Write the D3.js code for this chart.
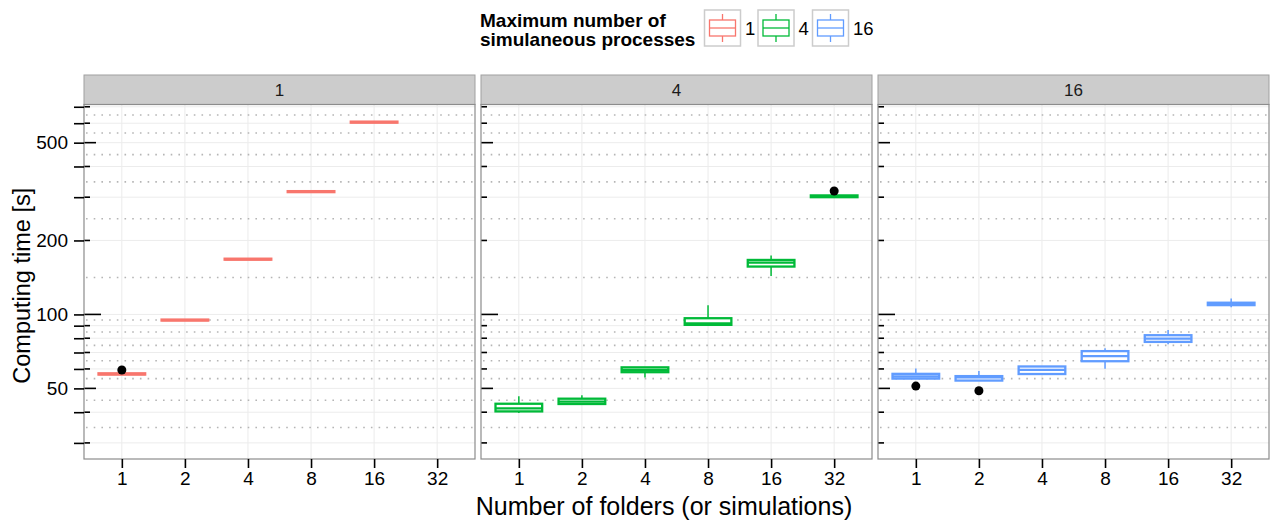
<!DOCTYPE html>
<html>
<head>
<meta charset="utf-8">
<script src="https://cdn.jsdelivr.net/npm/d3@7"></script>
<style>
  body { margin: 0; background: #fff; }
  svg { font-family: "Liberation Sans", Arial, sans-serif; }
</style>
</head>
<body>
<svg id="chart" width="1273" height="520"></svg>
<script>
// categories
const folders = ['1', '2', '4', '8', '16', '32']
const procs = ['1', '4', '16']
const procColors = ['#F8766D', '#00BA38', '#619CFF']

// box stats per panel, one entry per folder: [low whisker, q1, median, q3, high whisker]
const boxes1 = [
    [56.9, 56.9, 57.2, 57.6, 57.6],
    [94.4, 94.4, 94.8, 95.3, 95.3],
    [167.0, 167.0, 167.7, 168.6, 168.6],
    [314.5, 314.5, 316, 317.5, 317.5],
    [603, 603, 606, 609, 609],
    null
]
const boxes4 = [
    [39.7, 40.3, 41.5, 43.3, 46.5],
    [43.1, 43.2, 44.2, 45.4, 46.9],
    [55.4, 58.2, 59.5, 60.9, 61.0],
    [90.7, 90.7, 91.9, 96.5, 109],
    [143.4, 156.6, 162.4, 166.6, 173.6],
    [300, 300, 302.5, 305, 305]
]
const boxes16 = [
    [54.8, 54.8, 55.9, 57.3, 60.3],
    [53.8, 53.8, 55.4, 56.1, 58.8],
    [57.2, 57.2, 59.5, 61.4, 61.4],
    [60.1, 64.5, 67.6, 70.9, 72.8],
    [75.7, 77.3, 79.7, 82.3, 86.4],
    [107, 109.1, 110.4, 111.6, 116.1]
]
// outliers per panel: [folder, value]
const outliers1 = [['1', 59.4]]
const outliers4 = [['32', 318]]
const outliers16 = [['1', 51.1], ['2', 48.9]]

// y axis ticks
const yTicks = [30, 40, 50, 60, 70, 80, 90, 100, 200, 300, 400, 500, 600, 700]
const yLabels = [50, 100, 200, 500]

const panelData = [
    { name: procs[0], boxes: boxes1, outliers: outliers1, color: procColors[0] },
    { name: procs[1], boxes: boxes4, outliers: outliers4, color: procColors[1] },
    { name: procs[2], boxes: boxes16, outliers: outliers16, color: procColors[2] }
]

const svg = d3.select('#chart')

const panelW = 391
const panelGap = 6
const panelLeft = 84
const panelTop = 104.5
const panelBottom = 459
const stripTop = 75

const y = d3.scaleLog().domain([25.8, 715]).range([panelBottom, panelTop])
const x = d3.scalePoint().domain(folders).range([0, panelW]).padding(0.6)
const boxW = x.step() * 0.74

// geometric midpoints between ticks -> dotted minor grid
const minorGrid = d3.pairs(yTicks).map(([a, b]) => Math.sqrt(a * b))

function tickLen(v) {
    const m = v / Math.pow(10, Math.floor(Math.log10(v) + 1e-9))
    if (Math.abs(m - 1) < 1e-6) return 17
    if (Math.abs(m - 5) < 1e-6) return 12
    return 6
}

panelData.forEach((p, i) => {
    const left = panelLeft + i * (panelW + panelGap)
    const g = svg.append('g').attr('transform', `translate(${left},0)`)

    // strip
    g.append('rect')
        .attr('x', 0).attr('y', stripTop)
        .attr('width', panelW).attr('height', panelTop - stripTop)
        .attr('fill', '#cccccc').attr('stroke', '#a0a0a0').attr('stroke-width', 1)
    g.append('text')
        .attr('x', panelW / 2).attr('y', (stripTop + panelTop) / 2 + 6)
        .attr('text-anchor', 'middle').attr('font-size', 17).attr('fill', '#1a1a1a')
        .text(p.name)

    // panel background
    g.append('rect')
        .attr('x', 0).attr('y', panelTop)
        .attr('width', panelW).attr('height', panelBottom - panelTop)
        .attr('fill', '#fff')

    // grid
    g.append('g').selectAll('line')
        .data(folders)
        .enter()
        .append('line')
        .attr('x1', d => x(d)).attr('x2', d => x(d))
        .attr('y1', panelTop).attr('y2', panelBottom)
        .attr('stroke', '#ebebeb').attr('stroke-width', 1)
    g.append('g').selectAll('line')
        .data(yTicks)
        .enter()
        .append('line')
        .attr('x1', 0).attr('x2', panelW)
        .attr('y1', d => y(d)).attr('y2', d => y(d))
        .attr('stroke', '#ececec').attr('stroke-width', 1)
    g.append('g').selectAll('line')
        .data(minorGrid)
        .enter()
        .append('line')
        .attr('x1', 2).attr('x2', panelW)
        .attr('y1', d => y(d)).attr('y2', d => y(d))
        .attr('stroke', '#b5b5b5').attr('stroke-width', 1.6)
        .attr('stroke-dasharray', '1.6 6.1')

    // log ticks inside panel
    g.append('g').selectAll('line')
        .data(yTicks)
        .enter()
        .append('line')
        .attr('x1', 0).attr('x2', d => tickLen(d))
        .attr('y1', d => y(d)).attr('y2', d => y(d))
        .attr('stroke', '#000').attr('stroke-width', 1.6)

    // boxplots
    const bg = g.append('g')
    p.boxes.forEach((b, j) => {
        if (!b) return
        const cx = x(folders[j])
        const [lo, q1, med, q3, hi] = b
        bg.append('line')
            .attr('x1', cx).attr('x2', cx)
            .attr('y1', y(hi)).attr('y2', y(q3))
            .attr('stroke', p.color).attr('stroke-width', 1.5)
        bg.append('line')
            .attr('x1', cx).attr('x2', cx)
            .attr('y1', y(q1)).attr('y2', y(lo))
            .attr('stroke', p.color).attr('stroke-width', 1.5)
        bg.append('rect')
            .attr('x', cx - boxW / 2).attr('y', y(q3))
            .attr('width', boxW).attr('height', Math.max(0.5, y(q1) - y(q3)))
            .attr('fill', '#fff').attr('stroke', p.color).attr('stroke-width', 2.3)
        bg.append('line')
            .attr('x1', cx - boxW / 2).attr('x2', cx + boxW / 2)
            .attr('y1', y(med)).attr('y2', y(med))
            .attr('stroke', p.color).attr('stroke-width', 2.3)
    })
    bg.selectAll('circle')
        .data(p.outliers)
        .enter()
        .append('circle')
        .attr('cx', d => x(d[0])).attr('cy', d => y(d[1]))
        .attr('r', 4.5).attr('fill', '#000')

    // panel border
    g.append('rect')
        .attr('x', 0).attr('y', panelTop)
        .attr('width', panelW).attr('height', panelBottom - panelTop)
        .attr('fill', 'none').attr('stroke', '#8c8c8c').attr('stroke-width', 1.2)

    // x axis
    const xAxis = g.append('g')
        .attr('transform', `translate(0,${panelBottom})`)
        .call(d3.axisBottom(x).tickSize(9).tickPadding(4))
    xAxis.select('.domain').remove()
    xAxis.selectAll('.tick line').attr('stroke', '#000').attr('stroke-width', 1.6)
    xAxis.selectAll('.tick text').attr('font-size', 19).attr('fill', '#000')
        .attr('font-family', '"Liberation Sans", Arial, sans-serif')

    // y axis on first panel only
    if (i === 0) {
        const yAxis = g.append('g')
            .call(d3.axisLeft(y).tickValues(yTicks).tickSize(10).tickPadding(6)
                .tickFormat(d => yLabels.includes(d) ? d : ''))
        yAxis.select('.domain').remove()
        yAxis.selectAll('.tick line').attr('stroke', '#000').attr('stroke-width', 1.6)
        yAxis.selectAll('.tick text').attr('font-size', 19).attr('fill', '#000')
            .attr('font-family', '"Liberation Sans", Arial, sans-serif')
    }
})

// axis titles
svg.append('text')
    .attr('x', 664).attr('y', 515)
    .attr('text-anchor', 'middle').attr('font-size', 25)
    .text('Number of folders (or simulations)')
svg.append('text')
    .attr('transform', `translate(30,${(panelTop + panelBottom) / 2 + 4}) rotate(-90)`)
    .attr('text-anchor', 'middle').attr('font-size', 23.5)
    .text('Computing time [s]')

// legend
const legend = svg.append('g')
legend.append('text')
    .attr('x', 480).attr('y', 26.5)
    .attr('font-size', 19).attr('font-weight', 'bold')
    .text('Maximum number of')
legend.append('text')
    .attr('x', 480).attr('y', 45.5)
    .attr('font-size', 19).attr('font-weight', 'bold')
    .text('simulaneous processes')

const keyX = [704.5, 758, 812.5]
const labelX = [745, 798.5, 853]
procs.forEach((name, k) => {
    const kg = legend.append('g').attr('transform', `translate(${keyX[k]},10)`)
    kg.append('rect')
        .attr('x', 0).attr('y', 0).attr('width', 36).attr('height', 36)
        .attr('fill', '#fff').attr('stroke', '#cccccc').attr('stroke-width', 1.5)
    kg.append('line')
        .attr('x1', 18).attr('x2', 18).attr('y1', 4).attr('y2', 32)
        .attr('stroke', procColors[k]).attr('stroke-width', 1.3)
    kg.append('rect')
        .attr('x', 5).attr('y', 10).attr('width', 26).attr('height', 16)
        .attr('fill', '#fff').attr('stroke', procColors[k]).attr('stroke-width', 1.3)
    kg.append('line')
        .attr('x1', 5).attr('x2', 31).attr('y1', 18).attr('y2', 18)
        .attr('stroke', procColors[k]).attr('stroke-width', 1.3)
    legend.append('text')
        .attr('x', labelX[k]).attr('y', 35)
        .attr('font-size', 18.5)
        .text(name)
})
</script>
</body>
</html>
